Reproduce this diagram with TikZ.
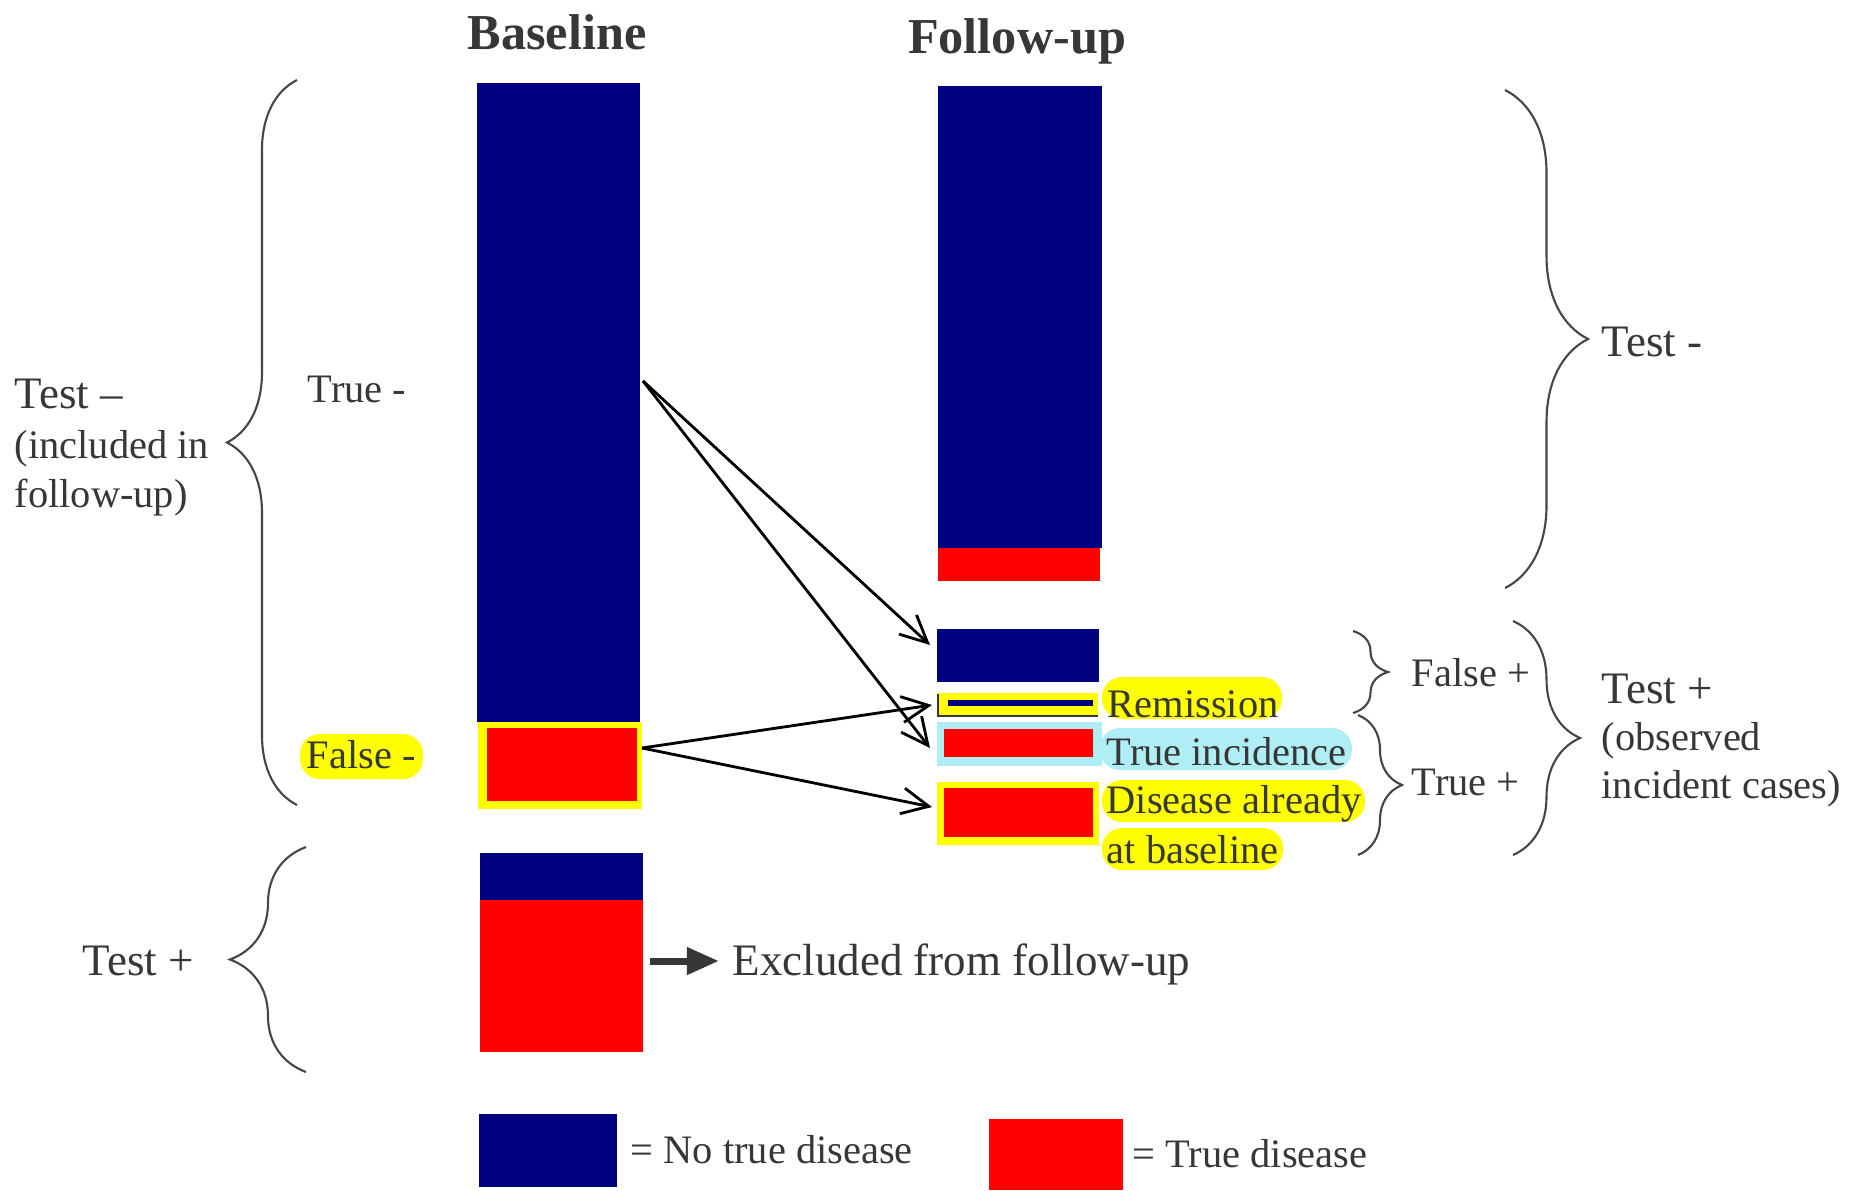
\documentclass[tikz,border=0pt]{standalone}
\usepackage{fontspec}
\setmainfont{Liberation Serif}
\usetikzlibrary{arrows.meta,decorations.pathreplacing}
\definecolor{navy}{RGB}{0,0,128}
\definecolor{bred}{RGB}{255,0,0}
\definecolor{hyel}{RGB}{255,255,0}
\definecolor{hcyan}{RGB}{175,238,245}
\definecolor{ink}{RGB}{55,55,55}
\definecolor{bracegray}{RGB}{70,70,70}
\begin{document}
\begin{tikzpicture}[x=0.01cm,y=-0.01cm,
  lbl/.style={anchor=base west, inner sep=0pt, text=ink, font=\fontsize{11.5}{13}\selectfont},
  biglbl/.style={lbl, font=\fontsize{12.8}{14}\selectfont},
  ttl/.style={anchor=base, inner sep=0pt, text=ink, font=\fontsize{14.3}{16}\selectfont\bfseries},
  brc/.style={draw=bracegray, line width=0.6pt, decorate, decoration={brace, amplitude=#1}},
  conn/.style={draw=black, line width=0.8pt, -{Straight Barb[length=2.7mm,width=2.6mm]}},
  hl/.style={fill=hyel, rounded corners=2mm},
]
\useasboundingbox (0,0) rectangle (1857,1190);
\fill[white] (0,0) rectangle (1857,1190);

% titles
\node[ttl] (tbase) at (557,49) {Baseline};
\node[ttl] (tfol) at (1017,53) {Follow-up};

% baseline bar
\fill[navy] (477,83) rectangle (640,722);
\fill[hyel] (478,722) rectangle (642,809);
\fill[bred] (487,728) rectangle (637,801);
% baseline test+ bar
\fill[navy] (480,853) rectangle (643,900);
\fill[bred] (480,900) rectangle (643,1052);

% follow-up bar
\fill[navy] (938,86) rectangle (1102,548);
\fill[bred] (938,548) rectangle (1100,581);
\fill[navy] (937,629) rectangle (1099,682);
% remission
\fill[hyel] (937,693) rectangle (1098,717);
\draw[ink, line width=0.4pt] (938,694) -- (938,716) -- (1098,716);
\fill[navy] (948,700) rectangle (1093,706);
% true incidence
\fill[hcyan] (937,722) rectangle (1102,766);
\fill[hcyan, rounded corners=2mm] (1100,728) rectangle (1352,770);
\fill[bred] (944,729) rectangle (1093,757);
% disease already
\fill[hyel] (937,782) rectangle (1099,845);
\fill[bred] (944,788) rectangle (1093,837);

% highlights
\fill[hl] (1102,677) rectangle (1282,719);
\fill[hl] (1102,780) rectangle (1365,822);
\fill[hl] (1102,828) rectangle (1283,870);
\fill[hl] (300,734) rectangle (423,779);

% labels
\node[lbl] (rem) at (1107,717) {Remission};
\node[lbl] (tinc) at (1106,765) {True incidence};
\node[lbl] (dis1) at (1106,813) {Disease already};
\node[lbl] (dis2) at (1106,863) {at baseline};
\node[lbl] (fneg) at (306,768) {False -};
\node[lbl] (tneg) at (307,402) {True -};
\node[biglbl] (testm1) at (14,408) {Test –};
\node[lbl] (inc1) at (14,458) {(included in};
\node[lbl] (inc2) at (14,507) {follow-up)};
\node[biglbl] (testp1) at (82,975) {Test +};
\node[biglbl] (excl) at (732,975) {Excluded from follow-up};
\node[lbl] (leg1) at (630,1163) {= No true disease};
\node[lbl] (leg2) at (1132,1167) {= True disease};
\node[biglbl] (testm2) at (1601,356) {Test -};
\node[lbl] (fpos) at (1411,686) {False +};
\node[lbl] (tpos) at (1411,795) {True +};
\node[biglbl] (testp2) at (1601,703) {Test +};
\node[lbl] (obs1) at (1601,750) {(observed};
\node[lbl] (obs2) at (1601,798) {incident cases)};

% braces
\draw[brc=7mm] (297,805) -- (297,80);
\draw[brc=7.6mm] (306,1072) -- (306,847);
\draw[brc=8.3mm] (1505,90) -- (1505,588);
\draw[brc=6.7mm] (1513,621) -- (1513,855);
\draw[brc=3.5mm] (1353,631) -- (1353,713);
\draw[brc=4.4mm] (1358,715) -- (1358,855);

% connectors
\coordinate (tnS) at (643,381);
\coordinate (fnS) at (642,748);
\coordinate (fbT) at (930,645);
\coordinate (tiT) at (930,748);
\coordinate (remT) at (932,705);
\coordinate (disT) at (932,807);
\draw[conn] (tnS) -- (fbT);
\draw[conn] (tnS) -- (tiT);
\draw[conn] (fnS) -- (remT);
\draw[conn] (fnS) -- (disT);

% excluded arrow
\coordinate (exS) at (650,961);
\coordinate (exT) at (719,961);
\draw[ink, line width=2pt, -{Triangle[length=3.2mm,width=2.6mm]}] (exS) -- (exT);

% legend
\fill[navy] (479,1114) rectangle (617,1187);
\fill[bred] (989,1119) rectangle (1123,1190);
\end{tikzpicture}
\end{document}
